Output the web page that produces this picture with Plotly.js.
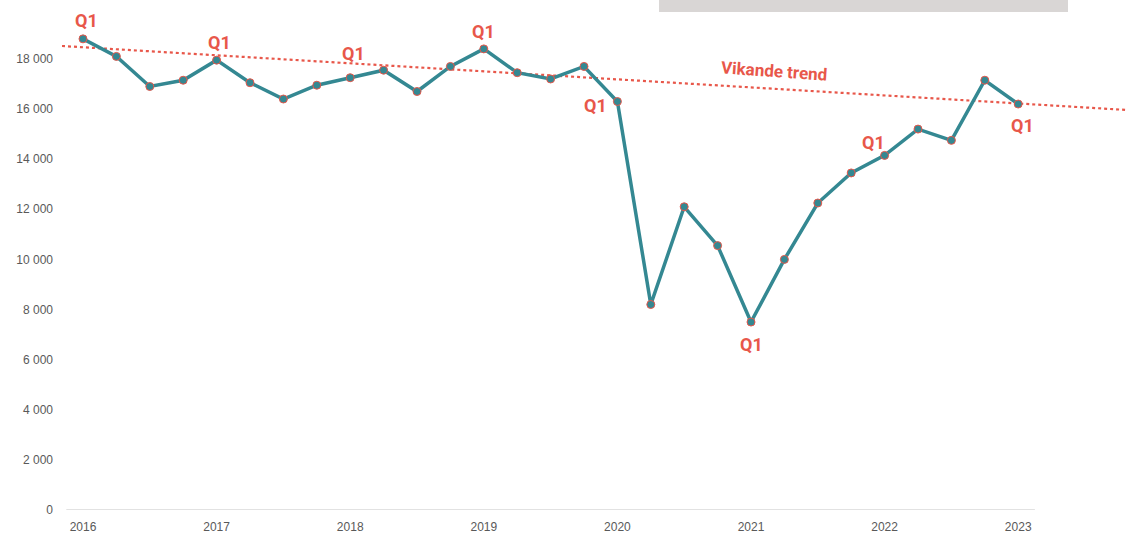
<!DOCTYPE html>
<html>
<head>
<meta charset="utf-8">
<script src="https://cdn.plot.ly/plotly-3.0.1.min.js"></script>
<style>html,body{margin:0;padding:0;background:#fff;}#chart{width:1127px;height:537px;}</style>
</head>
<body>
<div id="chart"></div>
<script>
// Quarterly values, 2016 Q1 .. 2023 Q1
const quarters = ["2016Q1","2016Q2","2016Q3","2016Q4","2017Q1","2017Q2","2017Q3","2017Q4",
  "2018Q1","2018Q2","2018Q3","2018Q4","2019Q1","2019Q2","2019Q3","2019Q4",
  "2020Q1","2020Q2","2020Q3","2020Q4","2021Q1","2021Q2","2021Q3","2021Q4",
  "2022Q1","2022Q2","2022Q3","2022Q4","2023Q1"];
const values = [18800,18100,16900,17150,17950,17050,16400,16950,
  17250,17550,16700,17700,18400,17450,17200,17700,
  16300,8200,12100,10550,7500,10000,12250,13450,
  14150,15200,14750,17150,16200];
const yearTicks = [2016,2017,2018,2019,2020,2021,2022,2023];
const yTicks = [0,2000,4000,6000,8000,10000,12000,14000,16000,18000];
// Trend line endpoints (decimal year, value)
const trendX = [2015.8428, 2023.8144];
const trendY = [18516, 15962];
// Q1 label markers: [quarter index, xshift px, yshift px]
const q1Labels = [[0,3,18],[4,3,18],[8,3,24],[12,0,17],[16,-22,-4],[20,0,-22],[24,-11,13],[28,4,-21]];

const xs = quarters.map(q => parseInt(q.slice(0,4)) + (parseInt(q.slice(5)) - 1) / 4);
const red = "#e8574a", teal = "#348892";

const traces = [
  {x: trendX, y: trendY, mode: "lines", line: {color: red, width: 2.2, dash: "dot"}, hoverinfo: "skip"},
  {x: xs, y: values, mode: "lines+markers", line: {color: teal, width: 3.5},
   marker: {size: 8, color: teal, line: {color: red, width: 1}}, hoverinfo: "skip"}
];

const annotations = q1Labels.map(([i, dx, dy]) => ({
  x: xs[i], y: values[i], xref: "x", yref: "y", text: "Q1", showarrow: false,
  xshift: dx, yshift: dy, font: {family: "Roboto", size: 18, color: red, weight: 700}
}));
annotations.push({x: 2021.17, y: 17520, xref: "x", yref: "y", text: "Vikande trend", showarrow: false,
  textangle: 4, font: {family: "Roboto", size: 17, color: red, weight: 700}});

const layout = {
  width: 1127, height: 537,
  margin: {l: 62, r: 0, t: 10, b: 27},
  paper_bgcolor: "#fff", plot_bgcolor: "#fff",
  showlegend: false,
  separators: ", ",
  xaxis: {range: [trendX[0], trendX[1]], tickvals: yearTicks, ticktext: yearTicks.map(String),
    showgrid: false, zeroline: false, showline: false, ticks: "",
    tickfont: {family: "Liberation Sans", size: 12, color: "#595959"}, ticklabelstandoff: 8},
  yaxis: {range: [0, 19952], tickvals: yTicks, tickformat: ",d", showgrid: false, zeroline: false,
    showline: false, ticks: "", tickfont: {family: "Liberation Sans", size: 12, color: "#595959"},
    ticklabelstandoff: 8},
  shapes: [
    {type: "line", xref: "x", yref: "y", x0: 2015.875, x1: 2023.125, y0: 0, y1: 0,
     line: {color: "#d9d9d9", width: 1.5}, layer: "below"},
    {type: "rect", xref: "paper", yref: "paper", x0: 0.5606, x1: 0.9446, y0: 0.996, y1: 1.03,
     fillcolor: "#d9d6d5", line: {width: 0}}
  ],
  annotations: annotations
};

Plotly.newPlot("chart", traces, layout, {staticPlot: true, displayModeBar: false});
</script>
</body>
</html>
